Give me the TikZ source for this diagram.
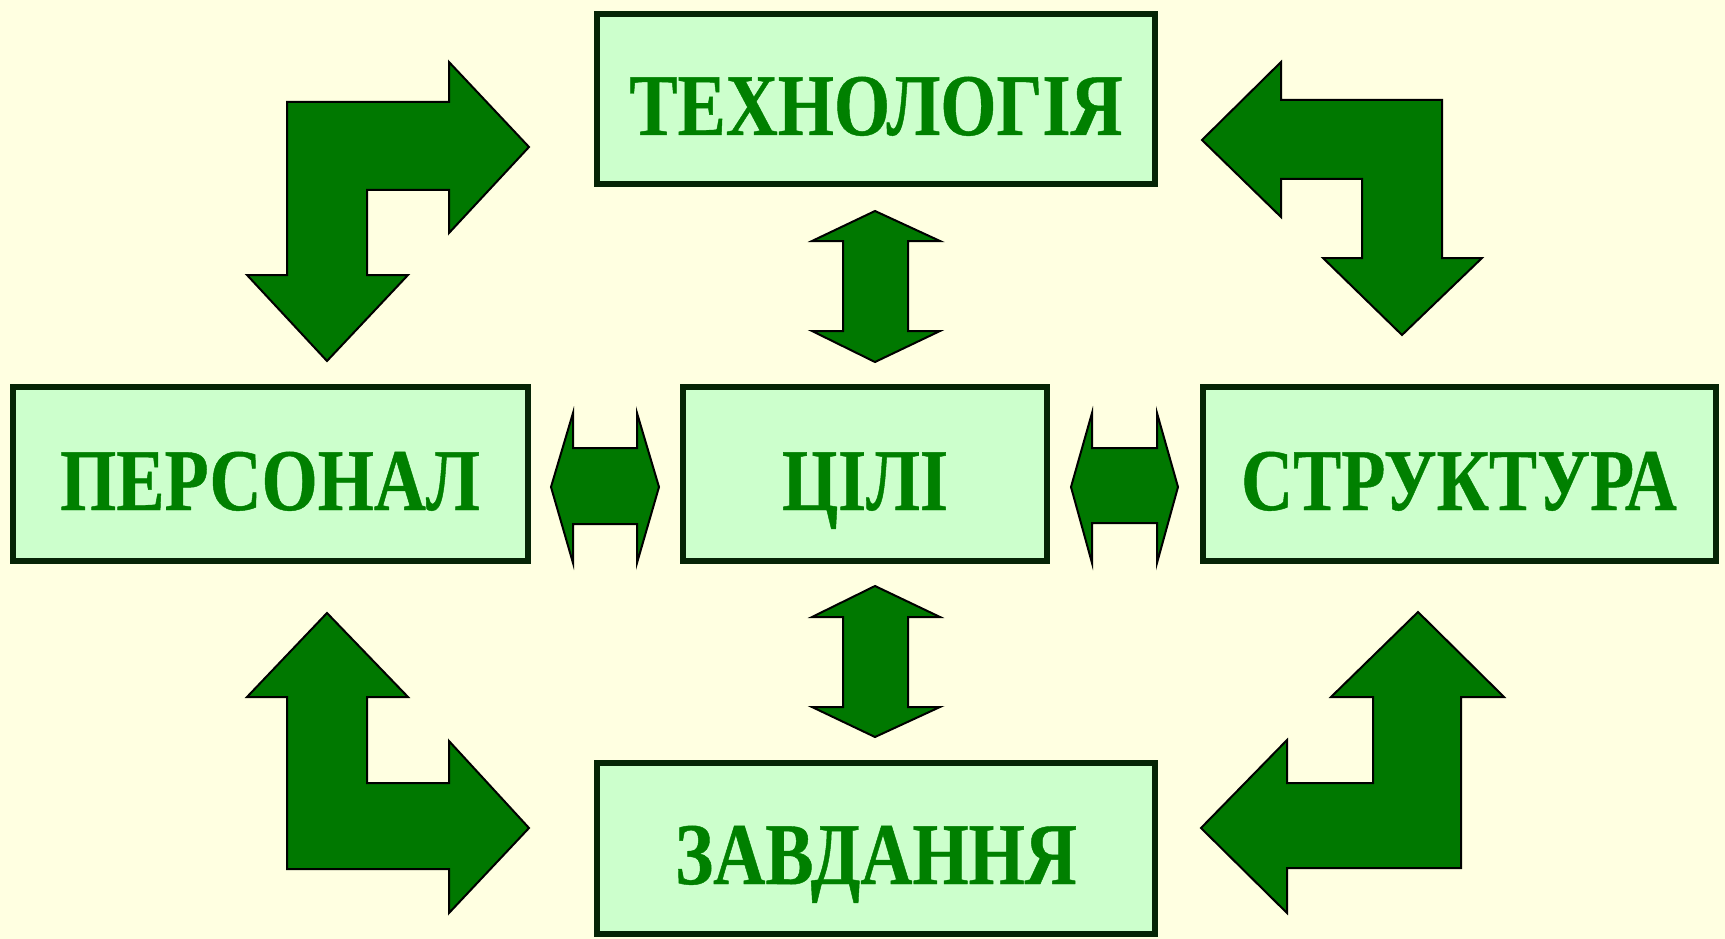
\documentclass[tikz,border=0pt]{standalone}
\usepackage{fontspec}
\newfontfamily\labelfont[FakeStretch=0.82, BoldFeatures={FakeBold=0.5}]{Liberation Serif}
\definecolor{paper}{RGB}{255,255,225}
\definecolor{boxfill}{RGB}{204,255,204}
\definecolor{boxline}{RGB}{6,36,6}
\definecolor{labelgreen}{RGB}{0,128,0}
\definecolor{arrowgreen}{RGB}{0,120,0}
\tikzset{
  block/.style={draw=boxline, line width=6pt, fill=boxfill, text=labelgreen,
    font=\labelfont\bfseries\fontsize{88}{90}\selectfont,
    inner sep=0pt, text height=72pt, text depth=0pt},
  blockarrow/.style={draw=black, line width=2pt, fill=arrowgreen, line join=miter}
}
\begin{document}
\begin{tikzpicture}[x=1pt,y=-1pt]
    \fill[paper] (0,0) rectangle (1725,939);
    \useasboundingbox (0,0) rectangle (1725,939);
    \node[block, minimum width=558pt, minimum height=170pt] (tech) at (876,99) {ТЕХНОЛОГІЯ};
    \node[block, minimum width=515pt, minimum height=174pt] (staff) at (270,474) {ПЕРСОНАЛ};
    \node[block, minimum width=364pt, minimum height=174pt] (goals) at (865,474) {ЦІЛІ};
    \node[block, minimum width=513pt, minimum height=174pt] (struct) at (1459,474) {СТРУКТУРА};
    \node[block, minimum width=558pt, minimum height=171pt] (tasks) at (876,848) {ЗАВДАННЯ};
    \draw[blockarrow] (287,102) -- (449,102) -- (449,62) -- (529,147) -- (449,233) -- (449,190)
      -- (367,190) -- (367,275) -- (408,275) -- (327,361) -- (247,275) -- (287,275) -- cycle;
    \draw[blockarrow] (1442,100) -- (1281,100) -- (1281,62) -- (1202,140) -- (1281,217) -- (1281,179)
      -- (1362,179) -- (1362,258) -- (1323,258) -- (1402,335) -- (1482,258) -- (1442,258) -- cycle;
    \draw[blockarrow] (287,869) -- (287,697) -- (247,697) -- (327,613) -- (408,697) -- (367,697)
      -- (367,783) -- (449,783) -- (449,741) -- (529,828) -- (449,913) -- (449,869) -- cycle;
    \draw[blockarrow] (1461,868) -- (1461,697) -- (1504,697) -- (1418,612) -- (1331,697) -- (1373,697)
      -- (1373,783) -- (1287,783) -- (1287,740) -- (1201,828) -- (1287,913) -- (1287,868) -- cycle;
    \draw[blockarrow] (875,211) -- (940,241) -- (908,241) -- (908,331) -- (940,331) -- (875,362)
      -- (812,331) -- (843,331) -- (843,241) -- (812,241) -- cycle;
    \draw[blockarrow] (875,586) -- (940,617) -- (908,617) -- (908,707) -- (940,707) -- (875,737)
      -- (812,707) -- (843,707) -- (843,617) -- (812,617) -- cycle;
    \draw[blockarrow] (551,487) -- (573,413) -- (573,448) -- (637,448) -- (637,413) -- (659,487)
      -- (637,563) -- (637,524) -- (573,524) -- (573,563) -- cycle;
    \draw[blockarrow] (1071,487) -- (1092,413) -- (1092,448) -- (1157,448) -- (1157,413) -- (1178,487)
      -- (1157,563) -- (1157,523) -- (1092,523) -- (1092,563) -- cycle;
\end{tikzpicture}
\end{document}
